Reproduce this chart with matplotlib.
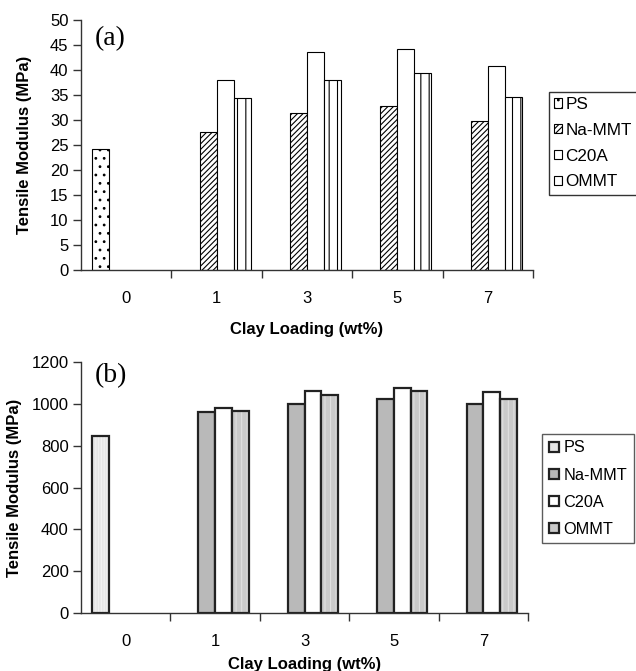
import numpy as np
import matplotlib
matplotlib.use("Agg")
import matplotlib.pyplot as plt
from matplotlib.patches import Patch

plt.rcParams["font.family"] = ["Liberation Sans", "DejaVu Sans"]
plt.rcParams["hatch.linewidth"] = 0.8

# ------------------------------------------------------------------
# data; nan = no bar in that group
# ------------------------------------------------------------------
nan = np.nan
loadings = ["0", "1", "3", "5", "7"]
series = ["PS", "Na-MMT", "C20A", "OMMT"]

# (a) tensile modulus, MPa
a_ps = [24.3, nan, nan, nan, nan]
a_na = [nan, 27.7, 31.5, 32.9, 29.8]
a_c20a = [nan, 38.1, 43.6, 44.3, 40.9]
a_ommt = [nan, 34.5, 38.1, 39.4, 34.7]

# (b) tensile modulus, MPa
b_ps = [847, nan, nan, nan, nan]
b_na = [nan, 959, 1001, 1024, 999]
b_c20a = [nan, 978, 1063, 1076, 1057]
b_ommt = [nan, 966, 1044, 1063, 1024]

# ------------------------------------------------------------------
# layout (pixel boxes measured on the reference)
# ------------------------------------------------------------------
W, H = 636, 671
fig = plt.figure(figsize=(W / 100, H / 100), dpi=100)


def px_axes(x0, y0, x1, y1):
    return fig.add_axes([x0 / W, 1 - y1 / H, (x1 - x0) / W, (y1 - y0) / H])


ax_a = px_axes(81, 20, 533, 270)
ax_b = px_axes(81, 362, 528, 613)

x = np.arange(len(loadings))
bw = 0.1875
offs = [-0.375 + k * bw for k in range(4)]

FS = 12


def style_axes(ax, ymax, ystep, ylab_x, xlab_y):
    ax.set_xlim(-0.5, len(loadings) - 0.5)
    ax.set_ylim(0, ymax)
    ax.set_yticks(np.arange(0, ymax + 1, ystep))
    ax.set_xticks(x)
    ax.set_xticklabels(loadings)
    ax.set_xticks(np.arange(0.5, len(loadings), 1.0), minor=True)
    ax.tick_params(axis="x", which="major", length=0, pad=15, labelsize=FS)
    ax.tick_params(axis="x", which="minor", length=6, width=1, color="#333333")
    ax.tick_params(axis="y", length=6, width=1, color="#333333", labelsize=FS, pad=3)
    for s in ("top", "right"):
        ax.spines[s].set_visible(False)
    for s in ("left", "bottom"):
        ax.spines[s].set_color("#333333")
        ax.spines[s].set_linewidth(1.0)
    ax.set_ylabel("Tensile Modulus (MPa)", fontsize=FS, fontweight="bold")
    ax.set_xlabel("Clay Loading (wt%)", fontsize=FS, fontweight="bold")
    ax.yaxis.set_label_coords(ylab_x, 0.5)
    ax.xaxis.set_label_coords(0.5, xlab_y)


# ---- panel (a): hatched outline bars
vals_a = [a_ps, a_na, a_c20a, a_ommt]
hatch_a = ["..", "//////", "", "||"]
handles_a = []
for k in range(4):
    h = ax_a.bar(x + offs[k], vals_a[k], bw, align="edge", color="white",
                 edgecolor="black", linewidth=0.8, hatch=hatch_a[k], label=series[k])
    handles_a.append(h)
style_axes(ax_a, 50, 5, -0.108, -0.207)
ax_a.text(0.03, 0.975, "(a)", transform=ax_a.transAxes, family="Liberation Serif",
          fontsize=20, va="top", ha="left")
fig.legend(handles_a, series, loc="upper left", bbox_to_anchor=(549 / W, 1 - 92 / H),
           frameon=True, fancybox=False, edgecolor="black", fontsize=12.3,
           handlelength=0.45, handleheight=0.45, handletextpad=0.2,
           labelspacing=0.63, borderpad=0.3, borderaxespad=0)

# ---- panel (b): grey filled bars
vals_b = [b_ps, b_na, b_c20a, b_ommt]
fill_b = ["#e6e6e6", "#b9b9b9", "white", "#cacaca"]
hatch_b = ["||||||", "", "", "|||"]
hcol_b = ["#f2f2f2", "#b9b9b9", "white", "#e0e0e0"]
for k in range(4):
    ax_b.bar(x + offs[k], vals_b[k], bw, align="edge", color=fill_b[k],
             edgecolor=hcol_b[k], linewidth=0, hatch=hatch_b[k])
    ax_b.bar(x + offs[k], vals_b[k], bw, align="edge", fill=False,
             edgecolor="#222222", linewidth=1.6)
style_axes(ax_b, 1200, 200, -0.132, -0.175)
ax_b.text(0.03, 0.995, "(b)", transform=ax_b.transAxes, family="Liberation Serif",
          fontsize=20, va="top", ha="left")

leg_b = [Patch(facecolor=fill_b[k], edgecolor="#222222", linewidth=1.6) for k in range(4)]
fig.legend(leg_b, series, loc="upper left", bbox_to_anchor=(542 / W, 1 - 434 / H),
           frameon=True, fancybox=False, edgecolor="#333333", fontsize=11.7,
           handlelength=0.62, handleheight=0.62, handletextpad=0.3,
           labelspacing=0.74, borderpad=0.4, borderaxespad=0)

fig.savefig("out.png", dpi=100)
